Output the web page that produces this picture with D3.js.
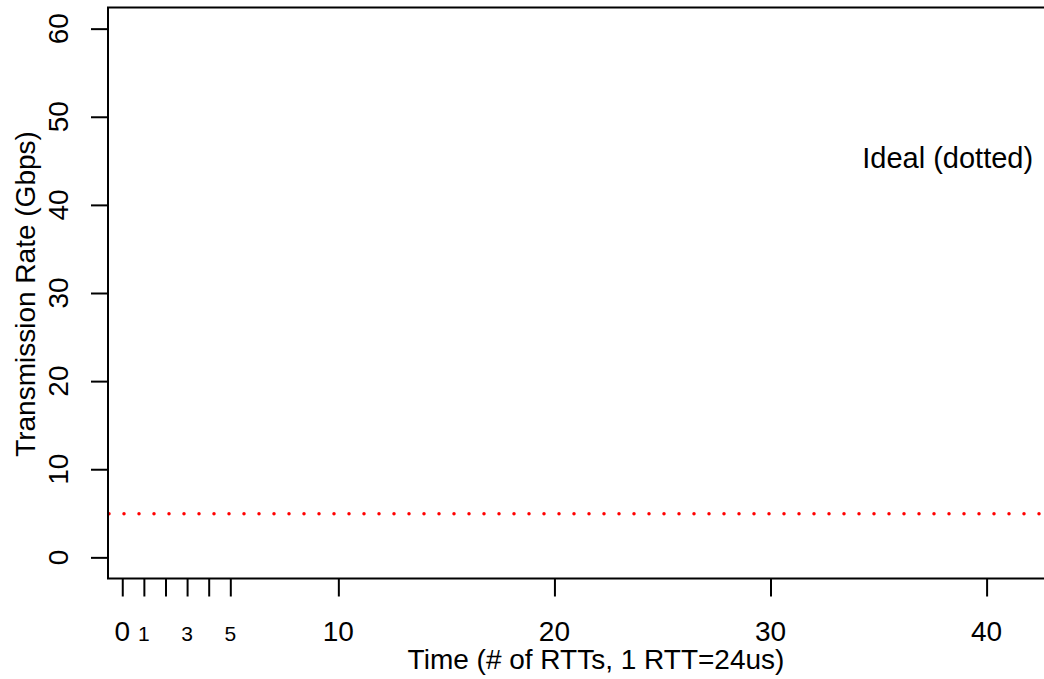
<!DOCTYPE html>
<html>
<head>
<meta charset="utf-8">
<script src="https://cdn.jsdelivr.net/npm/d3@7"></script>
<style>
  body { margin: 0; background: #fff; }
  text { font-family: "Liberation Sans", Arial, Helvetica, sans-serif; fill: #000; }
</style>
</head>
<body>
<svg></svg>
<script>
// tick values / labels
const xTicks = [0, 1, 2, 3, 4, 5, 10, 20, 30, 40];
const xBigLabels = [0, 10, 20, 30, 40];
const xSmallLabels = [1, 3, 5];
const yTicks = [0, 10, 20, 30, 40, 50, 60];

// ideal rate line (Gbps)
const idealRate = 5;
const idealLabel = { x: 38.2, y: 45.4, text: "Ideal (dotted)" };

const svgWidth = 1044, svgHeight = 679;
const plot = { left: 108, right: 1086, top: 7.5, bottom: 578.5 };

const svg = d3.select('svg')
  .attr("width", svgWidth)
  .attr("height", svgHeight);

const x = d3.scaleLinear()
  .domain([-0.66, 44.6])
  .range([plot.left, plot.right]);

const y = d3.scaleLinear()
  .domain([-2.4, 62.4])
  .range([plot.bottom, plot.top]);

svg.append("clipPath").attr("id", "clip")
  .append("rect")
  .attr("x", plot.left).attr("y", plot.top)
  .attr("width", plot.right - plot.left)
  .attr("height", plot.bottom - plot.top);

// dotted ideal line
svg.append("line")
  .attr("clip-path", "url(#clip)")
  .attr("x1", plot.left + 1).attr("x2", plot.right)
  .attr("y1", y(idealRate) + 0.5).attr("y2", y(idealRate) + 0.5)
  .attr("stroke", "#ff0000")
  .attr("stroke-width", 3.5)
  .attr("stroke-linecap", "round")
  .attr("stroke-dasharray", "0 15");

svg.append("text")
  .attr("x", x(idealLabel.x))
  .attr("y", y(idealLabel.y) + 11)
  .attr("text-anchor", "middle")
  .style("font-size", "29px")
  .text(idealLabel.text);

// x axis
const xAxis = svg.append("g")
  .attr("transform", "translate(0," + plot.bottom + ")")
  .call(d3.axisBottom(x).tickValues(xTicks).tickSize(18).tickFormat(""));
xAxis.select(".domain").remove();
xAxis.selectAll("line").attr("stroke", "#000").attr("stroke-width", 2);

svg.selectAll(".xbig")
  .data(xBigLabels)
  .join("text")
  .attr("x", d => x(d))
  .attr("y", 641)
  .attr("text-anchor", "middle")
  .style("font-size", "28px")
  .text(d => d);

svg.selectAll(".xsmall")
  .data(xSmallLabels)
  .join("text")
  .attr("x", d => x(d))
  .attr("y", 641)
  .attr("text-anchor", "middle")
  .style("font-size", "21px")
  .text(d => d);

// y axis
const yAxis = svg.append("g")
  .attr("transform", "translate(" + plot.left + ",0)")
  .call(d3.axisLeft(y).tickValues(yTicks).tickSize(17).tickFormat(""));
yAxis.select(".domain").remove();
yAxis.selectAll("line").attr("stroke", "#000").attr("stroke-width", 2);

svg.selectAll(".ylab")
  .data(yTicks)
  .join("text")
  .attr("transform", d => "translate(68," + y(d) + ") rotate(-90)")
  .attr("text-anchor", "middle")
  .style("font-size", "28px")
  .text(d => d);

// box
svg.append("rect")
  .attr("x", plot.left).attr("y", plot.top)
  .attr("width", plot.right - plot.left)
  .attr("height", plot.bottom - plot.top)
  .attr("fill", "none")
  .attr("stroke", "#000")
  .attr("stroke-width", 2);

// titles
svg.append("text")
  .attr("x", 596)
  .attr("y", 669)
  .attr("text-anchor", "middle")
  .style("font-size", "28px")
  .text("Time (# of RTTs, 1 RTT=24us)");

svg.append("text")
  .attr("transform", "translate(35,294) rotate(-90)")
  .attr("text-anchor", "middle")
  .style("font-size", "28px")
  .text("Transmission Rate (Gbps)");
</script>
</body>
</html>
